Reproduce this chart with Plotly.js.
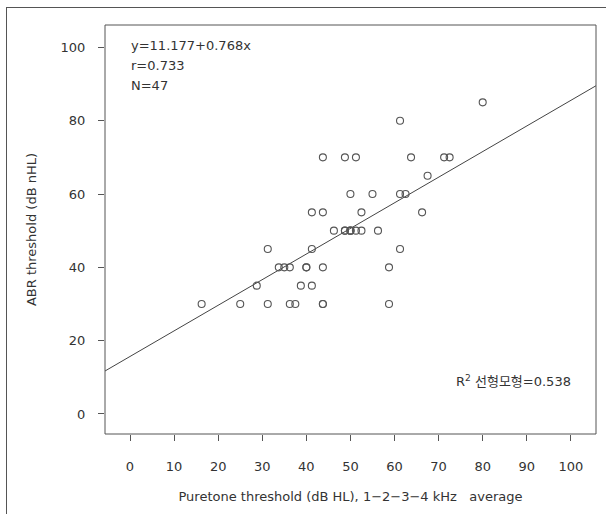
<!DOCTYPE html>
<html>
<head>
<meta charset="utf-8">
<script src="https://cdn.plot.ly/plotly-3.0.1.min.js"></script>
<style>
html,body{margin:0;padding:0;background:#fff;}
#wrap{position:relative;width:606px;height:514px;overflow:hidden;}
#chart{width:606px;height:514px;}
.fr{position:absolute;background:#555;pointer-events:none;z-index:10;}
#frameTop{left:6px;top:7px;width:600px;height:1px;}
#frameLeft{left:6px;top:7px;width:1px;height:507px;}
</style>
</head>
<body>
<div id="wrap"><div id="chart"></div><div id="frameTop" class="fr"></div><div id="frameLeft" class="fr"></div></div>
<script>
// Puretone threshold (dB HL), 1-2-3-4 kHz average
const puretone = [80, 61.25, 43.75, 48.75, 51.25, 63.75, 71.25, 72.5, 67.5, 50, 55, 61.25, 62.5,
  41.25, 43.75, 52.5, 66.25, 46.25, 48.75, 48.75, 50, 50, 50, 51.25, 52.5, 56.25,
  31.25, 41.25, 61.25, 33.75, 35, 36.25, 40, 40, 43.75, 58.75, 28.75, 38.75, 41.25,
  16.25, 25, 31.25, 36.25, 37.5, 43.75, 43.75, 58.75];
// ABR threshold (dB nHL)
const abr = [85, 80, 70, 70, 70, 70, 70, 70, 65, 60, 60, 60, 60,
  55, 55, 55, 55, 50, 50, 50, 50, 50, 50, 50, 50, 50,
  45, 45, 45, 40, 40, 40, 40, 40, 40, 40, 35, 35, 35,
  30, 30, 30, 30, 30, 30, 30, 30];
// fitted line as drawn in the picture (end points)
const fitX = [-5.7, 105.8];
const fitY = [11.7, 89.6];
const xTicks = [0, 10, 20, 30, 40, 50, 60, 70, 80, 90, 100];
const yTicks = [0, 20, 40, 60, 80, 100];
const statLines = ["y=11.177+0.768x", "r=0.733", "N=47"];
const r2Label = "R<sup>2</sup> 선형모형=0.538";

const FONT = "'DejaVu Sans', 'Noto Sans CJK KR', sans-serif";
const INK = '#333';
const LINE = '#555';

const traces = [
  {x: fitX, y: fitY, mode: 'lines', type: 'scatter', line: {color: '#444', width: 1}, hoverinfo: 'skip'},
  {x: puretone, y: abr, mode: 'markers', type: 'scatter',
   marker: {symbol: 'circle-open', size: 7, color: '#555', line: {width: 1.1, color: '#555'}}}
];

const axisCommon = {
  showgrid: false, zeroline: false, showline: false,
  ticks: 'outside', ticklen: 6, tickwidth: 1, tickcolor: LINE,
  tickfont: {family: FONT, size: 13, color: INK}, tickmode: 'array'
};

const px2x = p => (p - 105) / 491;
const px2y = p => (434 - p) / 409;

const statAnnotations = statLines.map((t, i) => ({
  xref: 'paper', yref: 'paper', x: px2x(129), y: px2y(45 + 20 * i), xanchor: 'left', yanchor: 'middle',
  text: t, showarrow: false, font: {family: FONT, size: 13, color: INK}
}));

const layout = {
  width: 606, height: 514,
  margin: {l: 105, r: 10, t: 25, b: 80, autoexpand: false},
  paper_bgcolor: '#fff', plot_bgcolor: '#fff',
  showlegend: false,
  font: {family: FONT, size: 13, color: INK},
  xaxis: Object.assign({}, axisCommon, {
    range: [-5.67, 105.7], tickvals: xTicks, ticktext: xTicks.map(String),
    ticklabelstandoff: 14,
    title: {text: 'Puretone threshold (dB HL), 1−2−3−4 kHz &nbsp; average', font: {family: FONT, size: 13, color: INK}, standoff: 19}
  }),
  yaxis: Object.assign({}, axisCommon, {
    range: [-5.46, 106.1], tickvals: yTicks, ticktext: yTicks.map(String),
    ticklabelstandoff: 10,
    title: {text: 'ABR threshold (dB nHL)', font: {family: FONT, size: 13, color: INK}, standoff: 21}
  }),
  annotations: statAnnotations.concat([
    {xref: 'paper', yref: 'paper', x: px2x(573), y: px2y(381), xanchor: 'right', yanchor: 'middle',
     text: r2Label, showarrow: false, font: {family: FONT, size: 13, color: INK}}
  ]),
  shapes: [
    {type: 'rect', xref: 'paper', yref: 'paper', x0: 0, x1: 1, y0: 0, y1: 1,
     line: {color: LINE, width: 1}, fillcolor: 'rgba(0,0,0,0)', layer: 'above'}
  ]
};

Plotly.newPlot('chart', traces, layout, {staticPlot: true, displayModeBar: false});
</script>
</body>
</html>
